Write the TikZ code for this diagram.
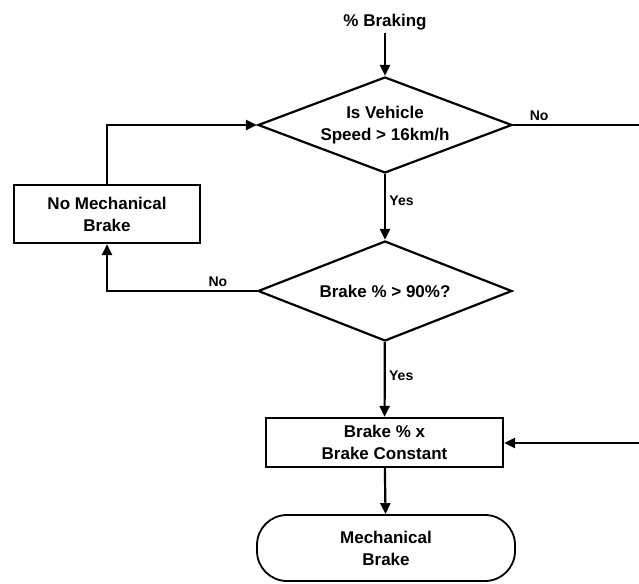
\documentclass[tikz,border=0pt]{standalone}
\usepackage{fontspec}
\setmainfont{Liberation Sans}
\usetikzlibrary{shapes.geometric,arrows.meta}
\begin{document}
\begin{tikzpicture}[x=1pt,y=-1pt,
  every node/.style={font=\bfseries\fontsize{17}{22}\selectfont},
  decision/.style={draw,diamond,line width=2.2pt,inner sep=0pt,aspect=2.7,minimum width=254pt,minimum height=96pt,align=center},
  procbox/.style={draw,rectangle,line width=2.2pt,align=center,inner sep=0pt},
  term/.style={draw,rectangle,rounded corners=30pt,line width=1.8pt,align=center},
  flow/.style={line width=2.2pt,-{Triangle[length=11pt,width=10pt]}},
  lbl/.style={font=\bfseries\fontsize{14}{16}\selectfont}
]
\useasboundingbox (0,0) rectangle (639,583);
\node (start) at (385,22) {\% Braking};
\node[decision] (d1) at (385,125) {Is Vehicle\\Speed > 16km/h};
\node[decision,minimum height=100pt] (d2) at (385,291) {Brake \% > 90\%?};
\node[procbox,minimum width=237pt,minimum height=49pt] (calc) at (384.5,442.5) {Brake \% x\\Brake Constant};
\node[term,minimum width=258pt,minimum height=66pt] (mech) at (386,548) {Mechanical\\Brake};
\node[procbox,minimum width=186pt,minimum height=58pt] (nomech) at (107,214) {No Mechanical\\Brake};
\coordinate (offR1) at (650,125);
\coordinate (offR2) at (650,443);
\draw[flow] (start) -- (d1);
\draw[flow] (d1) -- node[lbl,right,pos=0.4]{Yes} (d2);
\draw[flow] (d2) -- node[lbl,right,pos=0.45]{Yes} (calc);
\draw[flow] (calc) -- (mech);
\draw[flow] (d2.west) -| node[lbl,above,pos=0.13]{No} (nomech.south);
\draw[flow] (nomech.north) |- (d1.west);
\draw[flow] (d1.east) -- node[lbl,above,pos=0.19]{No} (offR1) -- (offR2) -- (calc.east |- offR2);
\end{tikzpicture}
\end{document}
